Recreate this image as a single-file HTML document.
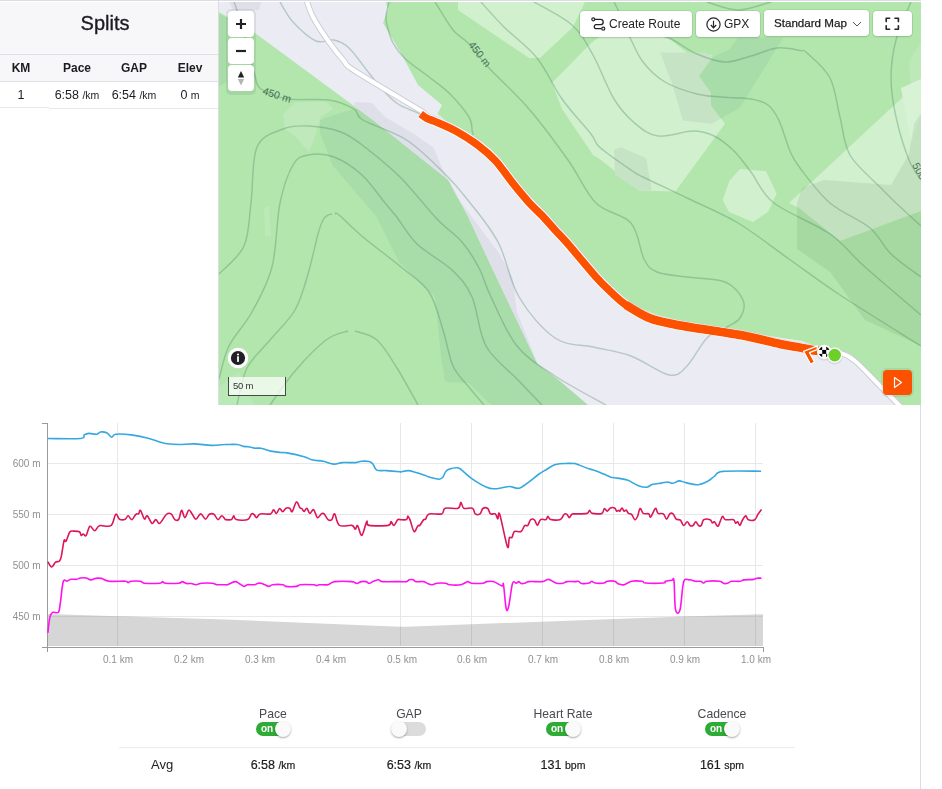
<!DOCTYPE html><html><head><meta charset="utf-8"><style>
*{margin:0;padding:0;box-sizing:border-box}
html,body{width:942px;height:789px;overflow:hidden;background:#fff;font-family:"Liberation Sans", sans-serif;color:#242428}
.a{position:absolute}
.t{position:absolute;white-space:nowrap;line-height:1;will-change:transform}
.btn{position:absolute;background:#fff;border-radius:4px;box-shadow:0 0 0 1px rgba(0,0,0,0.06),0 1px 2px rgba(0,0,0,0.12)}
.zb{position:absolute;left:9px;width:26px;height:26px;background:#fff;border-radius:4px}
.lbl{position:absolute;will-change:transform;font-size:10px;color:#8f8f95;white-space:nowrap;line-height:1}
.tog{position:absolute;height:14px;border-radius:7px}
.knob{position:absolute;top:-1px;width:16px;height:16px;border-radius:50%;background:#fafafa;box-shadow:0 1px 2px rgba(0,0,0,0.35)}
</style></head><body>
<div class="a" style="left:0;top:0;width:921px;height:1px;background:#dcdce3"></div>
<div class="a" style="left:0;top:2px;width:218px;height:79px;background:#f7f7fa"></div>
<div class="a" style="left:0;top:54px;width:218px;height:1px;background:#dfdfe8"></div>
<div class="a" style="left:0;top:81px;width:218px;height:1px;background:#dfdfe8"></div>
<div class="a" style="left:0;top:107px;width:49px;height:1px;background:#e6e6ec"></div>
<div class="a" style="left:49px;top:108px;width:169px;height:1px;background:#e6e6ec"></div>
<div class="a" style="left:218px;top:1px;width:1px;height:404px;background:#dcdce6"></div>
<div class="a" style="left:920px;top:405px;width:1px;height:384px;background:#dcdce6"></div>
<div class="t" style="left:0;width:210px;top:13px;text-align:center;font-size:20px;color:#1c1c20;-webkit-text-stroke:0.35px #1c1c20">Splits</div>
<div class="t" style="left:-19.3px;width:80px;top:62px;text-align:center;font-size:12px;font-weight:bold;color:#1c1c20">KM</div>
<div class="t" style="left:37.099999999999994px;width:80px;top:62px;text-align:center;font-size:12px;font-weight:bold;color:#1c1c20">Pace</div>
<div class="t" style="left:93.5px;width:80px;top:62px;text-align:center;font-size:12px;font-weight:bold;color:#1c1c20">GAP</div>
<div class="t" style="left:150px;width:80px;top:62px;text-align:center;font-size:12px;font-weight:bold;color:#1c1c20">Elev</div>
<div class="t" style="left:-19.3px;width:80px;top:88.5px;text-align:center;font-size:12.5px;color:#1c1c20">1</div>
<div class="t" style="left:37.099999999999994px;width:80px;top:88.5px;text-align:center;font-size:12.5px;color:#1c1c20">6:58 <span style="font-size:10.5px">/km</span></div>
<div class="t" style="left:93.5px;width:80px;top:88.5px;text-align:center;font-size:12.5px;color:#1c1c20">6:54 <span style="font-size:10.5px">/km</span></div>
<div class="t" style="left:150px;width:80px;top:88.5px;text-align:center;font-size:12.5px;color:#1c1c20">0 <span style="font-size:10.5px">m</span></div>
<div class="a" style="left:219px;top:2px;width:702px;height:403px;overflow:hidden">
<svg width="702" height="403" viewBox="0 0 702 403" style="position:absolute;left:0;top:0">
<rect width="702" height="403" fill="#b2e6ad"/>
<polygon points="0,12 8,16 8,80 0,84" fill="#a8dca9" />
<polygon points="63.7,112 76.4,100.6 107,99.3 114.6,107 101.9,114.6 96.8,132.4 90,150 76.4,135 66.2,127.3" fill="#bfe9bb" />
<polygon points="45,206 50,203 52,234 46,234" fill="#bbe9b7" />
<polygon points="101,118 121,111 140,106 260,190 380,403 272,403 250,381 230,380 226,379 222,354 216,295 180,260 157,214 114,164 101,131" fill="#a8dca9" />
<polygon points="0,385 20,370 35,403 0,403" fill="#b9e9b6" />
<polygon points="239,0 239,8 310,56 321,56 354,25 366,0" fill="#d1f0ce" />
<polygon points="333,81 372,41 381,34.5 447.8,34.5 469.4,51.7 493.1,52.8 480.1,74.3 490.9,90.5 492,102.4 506,121.7 456.4,189.6 419.8,188.6 381,157.3 374,153 343,107" fill="#d1f0ce" />
<polygon points="441.3,50.6 486.6,50.6 494.1,54.9 480.1,74.3 492,90.5 492,103.4 501.7,116.4 493.1,121.7 464,118.5 453.2,81.9" fill="#c6e3c6" />
<polygon points="518.9,35.5 564.2,35.5 521.1,105.6 501.7,116.4 492,103.4 492,90.5 480.1,74.3 494.1,54.9 510.3,47.4" fill="#a8dca9" />
<polygon points="395,147.6 402.6,145.5 427.3,156.2 432.7,188.6 419.8,188.6 396.1,172.4" fill="#c6e3c6" />
<polygon points="503.8,198 510.3,178.9 521.1,167 547,169.2 557.7,191.8 549,210 534,220 510,210" fill="#d1f0ce" />
<polygon points="570,201 692,87.6 702,77 702,209 621,239 580,206" fill="#d1f0ce" />
<polygon points="690,60 702,40 702,80 692,88" fill="#bde9b9" />
<polygon points="682,86 702,77 702,112 693,140 688,120" fill="#d8f2d5" />
<polygon points="583,186 605,178 672,183 690,152 695,122 702,111 702,344 646,318 611,270 578,247 578,201" fill="rgba(40,90,40,0.09)" />
<polygon points="0,0 167,0 169,7 164,21 183,53 199,83 223,103 218.5,112 237,126 260,141 277,156 294,177 310,197 323,210 336,225 349,239 377,272 407,300 438,313 468,320 519,329 583,339 604,347 621,348 636,356 661,381 683,403 369,403 341,379 318.7,362.2 293.6,309.2 269.8,258.9 248.9,214.3 229.4,178 154,118 135,104 36,31 0,10" fill="#ebebf4" />
<polygon points="135,100 153,101 166,115 195,132 215,146 223,166 237.7,194.7 279.6,250.6 293.6,275.7 297.7,309.2 318.7,362.2 341,379 318.7,362.2 293.6,309.2 269.8,258.9 248.9,214.3 229.4,178 154,118 135,104" fill="#dedfe8" />
<polygon points="10,0 42,0 40,8 14,8" fill="#dedfe8" />
<path d="M15,0 C16.2,3.3 19.5,11.7 22,20 C24.5,28.3 27.7,41.0 30,50 C32.3,59.0 34.0,67.8 36,74 C38.0,80.2 36.5,83.2 42,87 C47.5,90.8 57.7,95.2 69,97 C80.3,98.8 99.0,96.3 110,98 C121.0,99.7 129.3,103.7 135,107 C140.7,110.3 135.2,112.8 144,118 C152.8,123.2 174.3,129.5 187.5,138 C200.7,146.5 212.9,159.2 223,169 C233.1,178.8 238.7,185.2 248,197 C257.3,208.8 270.3,223.7 279,240 C287.7,256.3 290.5,279.0 300,295 C309.5,311.0 323.7,327.7 336,336 C348.3,344.3 361.3,342.0 374,345 C386.7,348.0 399.3,349.3 412,354 C424.7,358.7 440.7,371.3 450,373 C459.3,374.7 461.7,370.2 468,364 C474.3,357.8 481.7,342.3 488,336 C494.3,329.7 500.5,329.3 506,326 C511.5,322.7 518.0,320.7 521,316 C524.0,311.3 526.5,304.0 524,298 C521.5,292.0 515.3,283.8 506,280 C496.7,276.2 479.3,276.7 468,275 C456.7,273.3 445.2,273.0 438,270 C430.8,267.0 429.3,265.2 425,257 C420.7,248.8 420.0,230.3 412,221 C404.0,211.7 387.5,211.5 377,201 C366.5,190.5 360.2,173.7 349,158 C337.8,142.3 323.2,122.3 310,107 C296.8,91.7 280.2,77.0 270,66 C259.8,55.0 255.0,47.3 249,41 C243.0,34.7 239.5,34.8 234,28 C228.5,21.2 219.0,4.7 216,0" fill="none" stroke="#3d7a55" stroke-width="1.45" stroke-opacity="0.3"/>
<path d="M61,0 C63.2,3.3 68.0,13.5 74,20 C80.0,26.5 90.2,36.0 97,39 C103.8,42.0 109.5,36.8 115,38 C120.5,39.2 124.2,40.5 130,46 C135.8,51.5 144.5,64.2 150,71 C155.5,77.8 158.2,81.8 163,87 C167.8,92.2 172.7,97.8 179,102 C185.3,106.2 192.5,107.7 201,112 C209.5,116.3 221.5,124.5 230,128 C238.5,131.5 248.2,133.0 252,133 C255.8,133.0 253.3,131.0 253,128 C252.7,125.0 253.7,121.0 250,115 C246.3,109.0 237.7,98.7 231,92 C224.3,85.3 217.4,80.8 210,75 C202.6,69.2 192.5,62.7 186.5,57 C180.5,51.3 177.1,46.7 174,41 C170.9,35.3 169.2,27.5 168,23 C166.8,18.5 166.7,17.8 167,14 C167.3,10.2 169.5,2.3 170,0" fill="none" stroke="#3d7a55" stroke-width="1.45" stroke-opacity="0.3"/>
<path d="M0,272 C4.2,267.3 19.7,255.8 25,244 C30.3,232.2 29.8,217.5 32,201 C34.2,184.5 32.7,157.3 38,145 C43.3,132.7 55.5,130.5 64,127 C72.5,123.5 79.3,123.5 89,124 C98.7,124.5 112.3,126.3 122,130 C131.7,133.7 137.0,138.3 147,146 C157.0,153.7 170.2,164.2 182,176 C193.8,187.8 207.8,206.3 218,217 C228.2,227.7 236.0,231.8 243,240 C250.0,248.2 255.2,256.8 260,266 C264.8,275.2 265.7,282.0 272,295 C278.3,308.0 287.3,330.8 298,344 C308.7,357.2 321.2,364.2 336,374 C350.8,383.8 378.5,398.2 387,403" fill="none" stroke="#3d7a55" stroke-width="1.45" stroke-opacity="0.3"/>
<path d="M0,377 C1.7,371.5 4.5,355.2 10,344 C15.5,332.8 25.8,323.2 33,310 C40.2,296.8 48.3,283.2 53,265 C57.7,246.8 57.5,218.0 61,201 C64.5,184.0 69.3,171.0 74,163 C78.7,155.0 82.2,154.3 89,153 C95.8,151.7 106.0,151.7 115,155 C124.0,158.3 134.5,165.3 143,173 C151.5,180.7 160.3,194.2 166,201 C171.7,207.8 171.7,207.2 177,214 C182.3,220.8 188.7,233.0 198,242 C207.3,251.0 223.8,259.2 233,268 C242.2,276.8 247.3,282.3 253,295 C258.7,307.7 259.5,330.3 267,344 C274.5,357.7 288.7,367.2 298,377 C307.3,386.8 318.8,398.7 323,403" fill="none" stroke="#3d7a55" stroke-width="1.45" stroke-opacity="0.3"/>
<path d="M18,403 C19.7,396.8 22.5,376.8 28,366 C33.5,355.2 43.0,347.7 51,338 C59.0,328.3 69.7,319.0 76,308 C82.3,297.0 85.2,284.7 89,272 C92.8,259.3 96.5,241.0 99,232 C101.5,223.0 102.4,221.1 104,218 C105.6,214.9 107.0,214.3 108.5,213.3 C110.0,212.3 112.2,212.2 113,212" fill="none" stroke="#3d7a55" stroke-width="1.45" stroke-opacity="0.3"/>
<path d="M116,212 C116.7,212.2 115.3,209.2 120,213 C124.7,216.8 133.7,226.3 144,235 C154.3,243.7 171.0,255.8 182,265 C193.0,274.2 203.0,279.5 210,290 C217.0,300.5 220.0,315.7 224,328 C228.0,340.3 229.8,354.7 234,364 C238.2,373.3 243.8,377.5 249,384 C254.2,390.5 262.3,399.8 265,403" fill="none" stroke="#3d7a55" stroke-width="1.45" stroke-opacity="0.3"/>
<path d="M51,403 C55.2,397.3 66.7,379.8 76,369 C85.3,358.2 98.2,344.7 107,338 C115.8,331.3 125.3,330.5 129,329" fill="none" stroke="#3d7a55" stroke-width="1.45" stroke-opacity="0.3"/>
<path d="M136,329 C139.7,330.5 151.0,331.8 158,338 C165.0,344.2 171.2,355.2 178,366 C184.8,376.8 195.5,396.8 199,403" fill="none" stroke="#3d7a55" stroke-width="1.45" stroke-opacity="0.3"/>
<path d="M262,0 C265.8,4.2 275.7,15.7 285,25 C294.3,34.3 308.3,44.0 318,56 C327.7,68.0 334.0,84.3 343,97 C352.0,109.7 365.7,123.9 372,132 C378.3,140.1 374.3,139.5 381,145.5 C387.7,151.5 404.8,163.1 412,168 C419.2,172.9 414.7,170.3 424,175 C433.3,179.7 452.2,188.3 468,196 C483.8,203.7 502.0,210.8 519,221 C536.0,231.2 553.0,245.0 570,257 C587.0,269.0 599.0,278.5 621,293 C643.0,307.5 688.5,335.5 702,344" fill="none" stroke="#3d7a55" stroke-width="1.45" stroke-opacity="0.3"/>
<path d="M315,0 C321.3,3.8 343.2,14.2 353,23 C362.8,31.8 367.0,40.7 374,53 C381.0,65.3 388.1,85.7 395,97 C401.9,108.3 408.2,114.8 415.5,121 C422.8,127.2 429.2,132.7 439,134 C448.8,135.3 464.7,129.0 474,129 C483.3,129.0 488.2,130.7 495,134 C501.8,137.3 508.8,143.0 515,149 C521.2,155.0 525.3,161.3 532,170 C538.7,178.7 541.8,190.7 555,201 C568.2,211.3 595.8,221.3 611,232 C626.2,242.7 630.8,251.5 646,265 C661.2,278.5 692.7,305.0 702,313" fill="none" stroke="#3d7a55" stroke-width="1.45" stroke-opacity="0.3"/>
<path d="M395,0 C396.7,3.3 402.3,14.1 405,20 C407.7,25.9 407.8,28.8 411,35.5 C414.2,42.2 418.2,52.6 424,60 C429.8,67.4 437.0,74.7 446,80 C455.0,85.3 468.7,89.5 478,92 C487.3,94.5 493.0,94.2 502,95 C511.0,95.8 524.2,95.7 532,97 C539.8,98.3 544.3,99.4 549,103 C553.7,106.6 556.3,110.8 560,118.5 C563.7,126.2 567.5,141.1 571,149 C574.5,156.9 574.3,157.3 581,166 C587.7,174.7 599.3,191.0 611,201 C622.7,211.0 640.8,217.5 651,226 C661.2,234.5 663.5,243.8 672,252 C680.5,260.2 697.0,271.2 702,275" fill="none" stroke="#3d7a55" stroke-width="1.45" stroke-opacity="0.3"/>
<path d="M430,30 C433.7,31.2 444.0,33.3 452,37 C460.0,40.7 469.0,48.2 478,52 C487.0,55.8 497.0,59.7 506,60 C515.0,60.3 523.3,56.3 532,54 C540.7,51.7 549.8,46.9 558,46 C566.2,45.1 576.0,47.7 581,48.5 C586.0,49.3 583.0,46.4 588,51 C593.0,55.6 605.5,65.3 611,76 C616.5,86.7 617.7,102.2 621,115 C624.3,127.8 624.2,141.2 631,153 C637.8,164.8 654.3,178.0 662,186 C669.7,194.0 670.3,194.7 677,201 C683.7,207.3 697.8,220.2 702,224" fill="none" stroke="#3d7a55" stroke-width="1.45" stroke-opacity="0.3"/>
<path d="M488,0 C493.2,1.3 508.3,8.0 519,8 C529.7,8.0 546.5,1.3 552,0" fill="none" stroke="#3d7a55" stroke-width="1.45" stroke-opacity="0.3"/>
<path d="M692,0 C689.5,6.3 680.3,25.3 677,38 C673.7,50.7 672.0,63.2 672,76 C672.0,88.8 674.0,101.3 677,115 C680.0,128.7 685.8,147.5 690,158 C694.2,168.5 700.0,174.7 702,178" fill="none" stroke="#3d7a55" stroke-width="1.45" stroke-opacity="0.3"/>
<text x="0" y="0" transform="translate(43,92) rotate(18)" font-size="10.5" fill="#4a6e5a" font-family="Liberation Sans, sans-serif">450 m</text>
<text x="0" y="0" transform="translate(249,43) rotate(52)" font-size="10.5" fill="#4a6e5a" font-family="Liberation Sans, sans-serif">450 m</text>
<text x="0" y="0" transform="translate(693,163) rotate(62)" font-size="10.5" fill="#4a6e5a" font-family="Liberation Sans, sans-serif">500</text>
<path d="M87.5,-2 C88.6,0.8 90.2,8.0 94,15 C97.8,22.0 104.8,32.7 110,40 C115.2,47.3 120.7,54.2 125,59 C129.3,63.8 122.8,60.5 136,69 C149.2,77.5 192.7,103.2 204,110" fill="none" stroke="#c9cad4" stroke-width="6" stroke-linecap="round" stroke-linejoin="round"/>
<path d="M203.2,110.2 C204.2,110.9 206.7,113.1 209.0,114.3 C211.3,115.5 212.2,115.4 217.2,117.60000000000001 C222.1,119.8 231.3,123.4 238.7,127.50000000000001 C246.1,131.6 255.1,137.4 261.7,142.39999999999998 C268.3,147.3 272.7,151.2 278.2,157.2 C283.7,163.2 289.2,171.7 294.7,178.6 C300.2,185.5 306.2,192.9 311.2,198.39999999999998 C316.1,203.9 320.0,207.0 324.4,211.6 C328.8,216.2 333.1,221.4 337.5,226.2 C341.9,231.0 343.7,232.4 350.5,240.2 C357.3,248.0 371.2,265.0 378.5,273.2 C385.8,281.4 389.5,284.5 394.5,289.2 C399.5,293.9 402.2,297.0 408.5,301.2 C414.8,305.4 424.3,311.2 432.5,314.5 C440.7,317.8 449.2,319.0 457.5,320.7 C465.8,322.4 471.3,323.1 482.5,324.9 C493.7,326.7 511.2,328.9 524.5,331.5 C537.8,334.1 552.8,338.1 562.5,340.2 C572.2,342.2 576.2,342.6 582.5,343.8 C588.8,345.0 597.5,346.6 600.5,347.2" fill="none" stroke="#c9cad4" stroke-width="6" stroke-linecap="round" stroke-linejoin="round"/>
<path d="M598,347 C601.8,347.7 614.7,349.0 621,351 C627.3,353.0 629.3,353.5 636,359 C642.7,364.5 653.3,376.3 661,384 C668.7,391.7 678.5,401.5 682,405" fill="none" stroke="#c9cad4" stroke-width="6" stroke-linecap="round" stroke-linejoin="round"/>
<path d="M87.5,-2 C88.6,0.8 90.2,8.0 94,15 C97.8,22.0 104.8,32.7 110,40 C115.2,47.3 120.7,54.2 125,59 C129.3,63.8 122.8,60.5 136,69 C149.2,77.5 192.7,103.2 204,110" fill="none" stroke="#ffffff" stroke-width="4.2" stroke-linecap="round" stroke-linejoin="round"/>
<path d="M203.2,110.2 C204.2,110.9 206.7,113.1 209.0,114.3 C211.3,115.5 212.2,115.4 217.2,117.60000000000001 C222.1,119.8 231.3,123.4 238.7,127.50000000000001 C246.1,131.6 255.1,137.4 261.7,142.39999999999998 C268.3,147.3 272.7,151.2 278.2,157.2 C283.7,163.2 289.2,171.7 294.7,178.6 C300.2,185.5 306.2,192.9 311.2,198.39999999999998 C316.1,203.9 320.0,207.0 324.4,211.6 C328.8,216.2 333.1,221.4 337.5,226.2 C341.9,231.0 343.7,232.4 350.5,240.2 C357.3,248.0 371.2,265.0 378.5,273.2 C385.8,281.4 389.5,284.5 394.5,289.2 C399.5,293.9 402.2,297.0 408.5,301.2 C414.8,305.4 424.3,311.2 432.5,314.5 C440.7,317.8 449.2,319.0 457.5,320.7 C465.8,322.4 471.3,323.1 482.5,324.9 C493.7,326.7 511.2,328.9 524.5,331.5 C537.8,334.1 552.8,338.1 562.5,340.2 C572.2,342.2 576.2,342.6 582.5,343.8 C588.8,345.0 597.5,346.6 600.5,347.2" fill="none" stroke="#ffffff" stroke-width="4.2" stroke-linecap="round" stroke-linejoin="round"/>
<path d="M598,347 C601.8,347.7 614.7,349.0 621,351 C627.3,353.0 629.3,353.5 636,359 C642.7,364.5 653.3,376.3 661,384 C668.7,391.7 678.5,401.5 682,405" fill="none" stroke="#ffffff" stroke-width="4.2" stroke-linecap="round" stroke-linejoin="round"/>
<path d="M201.7,112 C202.7,112.7 205.2,114.9 207.5,116.1 C209.8,117.3 210.8,117.2 215.7,119.4 C220.6,121.6 229.8,125.2 237.2,129.3 C244.6,133.4 253.6,139.2 260.2,144.2 C266.8,149.1 271.2,153.0 276.7,159 C282.2,165.0 287.7,173.5 293.2,180.4 C298.7,187.3 304.8,194.7 309.7,200.2 C314.6,205.7 318.5,208.8 322.9,213.4 C327.3,218.0 331.6,223.2 336,228 C340.4,232.8 342.2,234.2 349,242 C355.8,249.8 369.7,266.8 377,275 C384.3,283.2 388.0,286.3 393,291 C398.0,295.7 400.7,298.8 407,303 C413.3,307.2 422.8,313.1 431,316.3 C439.2,319.6 447.7,320.8 456,322.5 C464.3,324.2 469.8,324.9 481,326.7 C492.2,328.5 509.7,330.8 523,333.3 C536.3,335.9 551.3,339.9 561,342 C570.7,344.1 574.7,344.4 581,345.6 C587.3,346.8 596.0,348.4 599,349" fill="none" stroke="#ffffff" stroke-width="9.6" stroke-opacity="0.9" stroke-linecap="butt" stroke-linejoin="round"/>
<path d="M201.7,112 C202.7,112.7 205.2,114.9 207.5,116.1 C209.8,117.3 210.8,117.2 215.7,119.4 C220.6,121.6 229.8,125.2 237.2,129.3 C244.6,133.4 253.6,139.2 260.2,144.2 C266.8,149.1 271.2,153.0 276.7,159 C282.2,165.0 287.7,173.5 293.2,180.4 C298.7,187.3 304.8,194.7 309.7,200.2 C314.6,205.7 318.5,208.8 322.9,213.4 C327.3,218.0 331.6,223.2 336,228 C340.4,232.8 342.2,234.2 349,242 C355.8,249.8 369.7,266.8 377,275 C384.3,283.2 388.0,286.3 393,291 C398.0,295.7 400.7,298.8 407,303 C413.3,307.2 422.8,313.1 431,316.3 C439.2,319.6 447.7,320.8 456,322.5 C464.3,324.2 469.8,324.9 481,326.7 C492.2,328.5 509.7,330.8 523,333.3 C536.3,335.9 551.3,339.9 561,342 C570.7,344.1 574.7,344.4 581,345.6 C587.3,346.8 596.0,348.4 599,349" fill="none" stroke="#fc5200" stroke-width="7.6" stroke-linecap="butt" stroke-linejoin="round"/>
<path d="M407,303 C411.0,305.2 422.8,313.1 431,316.3 C439.2,319.6 447.7,320.8 456,322.5 C464.3,324.2 469.8,324.9 481,326.7 C492.2,328.5 509.7,330.8 523,333.3 C536.3,335.9 551.3,339.9 561,342 C570.7,344.1 574.7,344.4 581,345.6 C587.3,346.8 596.0,348.4 599,349" fill="none" stroke="#fc5200" stroke-width="8.6" stroke-linecap="butt" stroke-linejoin="round"/>
<path d="M602,348.5 L588,348.5" fill="none" stroke="#fc5200" stroke-width="8"/>
<polygon points="584.5,349.3 598.5,343.8 598,347.6 590.5,350.6 595.5,360 591.6,362.2" fill="#fc5200" stroke="#fff" stroke-width="1.3" stroke-linejoin="round"/>
<circle cx="605.2" cy="351.2" r="7.6" fill="rgba(0,0,0,0.08)"/><circle cx="615.7" cy="354.6" r="8" fill="rgba(0,0,0,0.08)"/><g transform="translate(605.2,349.9)"><circle r="7.2" fill="#fff"/><clipPath id="cc"><circle r="5.6"/></clipPath><g clip-path="url(#cc)"><rect x="-6" y="-6" width="4" height="4" fill="#000"/><rect x="2" y="-6" width="4" height="4" fill="#000"/><rect x="-2" y="-2" width="4" height="4" fill="#000"/><rect x="-6" y="2" width="4" height="4" fill="#000"/><rect x="2" y="2" width="4" height="4" fill="#000"/></g></g>
<circle cx="615.7" cy="353.1" r="7.6" fill="#fff"/><circle cx="615.7" cy="353.1" r="6.3" fill="#6dcf2a"/>
</svg>
<div class="a" style="left:7px;top:7px;width:30px;height:86px;border-radius:5px;background:rgba(0,0,0,0.07)"></div>
<div class="zb" style="top:9px"></div>
<div class="zb" style="top:36px"></div>
<div class="zb" style="top:63px"></div>
<svg class="a" style="left:9px;top:9px" width="26" height="82" viewBox="0 0 26 82"><path d="M13,8 V18 M8,13 H18" stroke="#222" stroke-width="2.2"/><path d="M8,40 H18" stroke="#222" stroke-width="2.2"/><path d="M13,60 L16.2,66.5 H9.8 Z" fill="#222"/><path d="M13,74.5 L16.2,68 H9.8 Z" fill="#b5b5b5"/></svg>
<div class="btn" style="left:361px;top:9px;width:112px;height:26px"><svg class="a" style="left:11px;top:6px" width="15" height="14" viewBox="0 0 15 14"><circle cx="2.3" cy="2.3" r="1.5" fill="none" stroke="#242428" stroke-width="1.2"/><circle cx="12.3" cy="11.7" r="1.5" fill="none" stroke="#242428" stroke-width="1.2"/><path d="M4,2.3 H9.5 A2.7,2.7 0 0 1 9.5,7.7 H4.7 A2.1,2.1 0 0 0 4.7,11.7 H10.6" fill="none" stroke="#242428" stroke-width="1.3"/></svg><div class="t" style="left:29px;top:7px;font-size:12px;color:#242428">Create Route</div></div>
<div class="btn" style="left:477px;top:9px;width:64px;height:26px"><svg class="a" style="left:10px;top:6px" width="15" height="15" viewBox="0 0 15 15"><circle cx="7.5" cy="7.5" r="6.6" fill="none" stroke="#242428" stroke-width="1.2"/><path d="M7.5,3.8 V10.6 M4.8,8 L7.5,10.8 L10.2,8" fill="none" stroke="#242428" stroke-width="1.2"/></svg><div class="t" style="left:28px;top:7px;font-size:12px;color:#242428">GPX</div></div>
<div class="btn" style="left:545px;top:8px;width:105px;height:26px"><div class="t" style="left:10px;top:7px;font-size:11.6px;color:#1c1c20;-webkit-text-stroke:0.25px #1c1c20">Standard Map</div><svg class="a" style="left:88px;top:11px" width="10" height="6" viewBox="0 0 10 6"><path d="M1,1 L5,5 L9,1" fill="none" stroke="#555" stroke-width="1"/></svg></div>
<div class="btn" style="left:654px;top:9px;width:39px;height:25px"><svg class="a" style="left:12px;top:6px" width="15" height="14" viewBox="0 0 15 14"><path d="M1.2,4.6 V1.2 H4.6 M10,1.2 H13.4 V4.6 M13.4,8.8 V12.2 H10 M4.6,12.2 H1.2 V8.8" fill="none" stroke="#242428" stroke-width="1.6" stroke-linejoin="round" stroke-linecap="round"/></svg></div>
<svg class="a" style="left:8px;top:345px" width="22" height="22" viewBox="0 0 22 22"><circle cx="11" cy="11" r="10.3" fill="#fff"/><circle cx="11" cy="11" r="7.1" fill="#1f1f24"/><rect x="10.1" y="9.3" width="1.8" height="5.6" fill="#fff"/><circle cx="11" cy="7.5" r="1.05" fill="#fff"/></svg>
<div class="a" style="left:9px;top:375px;width:58px;height:19px;background:rgba(255,255,255,0.72);border:1px solid #444a44;border-top:none"></div>
<div class="t" style="left:14px;top:378.5px;font-size:9.5px;letter-spacing:-0.2px;color:#333">50 m</div>
<div class="a" style="left:664px;top:368px;width:29px;height:25px;border-radius:4px;background:#fc5200;box-shadow:0 0 0 2px rgba(0,0,0,0.06)"></div>
<svg class="a" style="left:671px;top:373px" width="15" height="15" viewBox="0 0 15 15"><path d="M4.5,2.5 L11.5,7.5 L4.5,12.5 Z" fill="none" stroke="#fff" stroke-width="1.2" stroke-linejoin="round"/></svg>
</div>
<svg class="a" style="left:0;top:0" width="942" height="789" viewBox="0 0 942 789">
<path d="M48,463.5 H763" stroke="#e8e8e8" stroke-width="1"/>
<path d="M48,514.5 H763" stroke="#e8e8e8" stroke-width="1"/>
<path d="M48,565.5 H763" stroke="#e8e8e8" stroke-width="1"/>
<path d="M48,616.5 H763" stroke="#e8e8e8" stroke-width="1"/>
<path d="M117.5,423 V646" stroke="#e8e8e8" stroke-width="1"/>
<path d="M400.5,423 V646" stroke="#e8e8e8" stroke-width="1"/>
<path d="M471.5,423 V646" stroke="#e8e8e8" stroke-width="1"/>
<path d="M542.5,423 V646" stroke="#e8e8e8" stroke-width="1"/>
<path d="M613.5,423 V646" stroke="#e8e8e8" stroke-width="1"/>
<path d="M684.5,423 V646" stroke="#e8e8e8" stroke-width="1"/>
<path d="M755.5,423 V646" stroke="#e8e8e8" stroke-width="1"/>
<path d="M47.5,614 L117.6,616.2 L225,619.5 L400,626.7 L406.5,626.7 L575,620.4 L684.6,616.6 L763,614.3 L763,646 L48,646 Z" fill="#d6d6d6"/>
<clipPath id="gclip"><path d="M47.5,614 L117.6,616.2 L225,619.5 L400,626.7 L406.5,626.7 L575,620.4 L684.6,616.6 L763,614.3 L763,646 L48,646 Z"/></clipPath>
<g clip-path="url(#gclip)">
<path d="M48,616.5 H763" stroke="#c8c8c8" stroke-width="1"/>
<path d="M117.5,610 V646" stroke="#c4c4c4" stroke-width="1"/>
<path d="M400.5,610 V646" stroke="#c4c4c4" stroke-width="1"/>
<path d="M471.5,610 V646" stroke="#c4c4c4" stroke-width="1"/>
<path d="M542.5,610 V646" stroke="#c4c4c4" stroke-width="1"/>
<path d="M613.5,610 V646" stroke="#c4c4c4" stroke-width="1"/>
<path d="M684.5,610 V646" stroke="#c4c4c4" stroke-width="1"/>
<path d="M755.5,610 V646" stroke="#c4c4c4" stroke-width="1"/>
</g>
<path d="M47.5,423 V652 M42,423.5 H47.5 M42,647.5 H763.5 M763.5,647 V652" stroke="#9a9a9a" stroke-width="1" fill="none"/>
<path d="M47.9,438.5 C53.3,438.5 74.4,439.1 80.4,438.5 C86.5,437.9 82.8,435.8 84.2,434.9 C85.6,434.0 86.9,433.5 89.0,433.4 C91.1,433.3 94.7,434.5 96.6,434.3 C98.5,434.1 98.7,432.2 100.4,432.0 C102.2,431.8 105.2,432.1 107.1,433.0 C108.9,433.9 110.1,437.0 111.5,437.2 C112.9,437.4 112.5,434.7 115.7,434.3 C119.0,433.9 125.6,434.2 131.0,434.9 C136.4,435.5 143.4,437.0 148.2,438.2 C153.0,439.4 156.5,441.1 159.7,442.0 C162.9,442.9 164.1,443.3 167.3,443.7 C170.5,444.1 174.3,444.5 178.8,444.5 C183.3,444.5 188.7,443.8 194.1,443.9 C199.5,444.0 206.2,445.3 211.3,445.4 C216.5,445.5 222.6,444.6 225.0,444.5 C227.4,444.4 223.7,444.5 225.7,444.5 C227.7,444.5 234.2,444.2 237.2,444.5 C240.2,444.8 242.0,446.0 243.9,446.4 C245.8,446.8 246.9,446.5 248.7,446.8 C250.4,447.1 252.3,447.9 254.4,448.1 C256.5,448.4 258.4,447.8 261.1,448.3 C263.8,448.8 267.2,450.4 270.6,451.1 C274.0,451.8 278.5,452.2 281.2,452.5 C283.9,452.8 283.1,452.2 286.9,452.9 C290.7,453.6 300.0,455.6 304.1,456.7 C308.2,457.8 308.5,458.9 311.7,459.7 C314.9,460.5 319.5,460.6 323.2,461.3 C326.9,462.0 330.5,463.9 333.7,464.1 C336.9,464.3 338.6,462.9 342.3,462.6 C346.0,462.4 352.5,462.8 355.7,462.6 C358.9,462.4 359.2,461.5 361.4,461.3 C363.6,461.1 367.2,461.1 369.1,461.5 C371.0,461.9 371.6,462.6 372.9,464.0 C374.2,465.4 374.5,469.0 376.7,470.1 C378.9,471.2 382.4,470.3 386.3,470.6 C390.2,470.9 397.6,471.6 400.0,471.8 C402.4,472.0 399.3,472.2 400.7,472.0 C402.1,471.8 405.8,470.5 408.4,470.6 C410.9,470.7 413.4,471.9 416.0,472.6 C418.6,473.3 421.1,474.1 423.7,475.0 C426.2,475.9 428.8,477.0 431.3,477.7 C433.9,478.4 437.1,479.3 439.0,479.2 C440.9,479.1 441.5,478.7 442.8,477.3 C444.1,475.9 444.4,472.2 446.6,470.6 C448.8,469.0 453.8,468.0 456.2,467.8 C458.6,467.6 458.4,467.6 460.9,469.3 C463.4,471.1 467.1,475.3 471.4,478.3 C475.7,481.3 482.9,485.6 486.7,487.3 C490.5,489.1 491.8,488.7 494.4,488.8 C496.9,488.9 499.4,488.2 502.0,487.8 C504.6,487.4 506.8,486.4 509.7,486.5 C512.6,486.6 516.0,488.9 519.2,488.2 C522.4,487.5 525.6,484.4 528.8,482.1 C532.0,479.8 535.4,476.6 538.3,474.5 C541.2,472.4 543.1,471.4 546.0,469.7 C548.9,468.0 552.0,465.6 555.5,464.5 C559.0,463.4 563.8,463.5 567.0,463.4 C570.2,463.2 573.4,463.5 575.0,463.6 C576.6,463.7 574.0,463.0 576.4,463.9 C578.8,464.8 585.6,467.6 589.1,468.8 C592.6,470.1 594.1,470.0 597.6,471.4 C601.1,472.8 607.5,475.8 610.3,476.9 C613.1,477.9 611.8,477.2 614.6,477.7 C617.4,478.2 623.4,478.8 627.3,480.1 C631.2,481.4 634.7,484.2 637.9,485.4 C641.1,486.6 643.9,487.5 646.4,487.3 C648.9,487.1 650.3,485.0 652.8,484.3 C655.3,483.6 658.8,483.5 661.3,483.1 C663.8,482.7 665.8,482.0 667.7,482.0 C669.7,482.0 671.1,483.5 673.0,483.3 C674.9,483.1 677.2,481.0 679.3,480.9 C681.4,480.8 682.7,482.0 685.7,482.6 C688.7,483.2 693.7,485.1 697.4,484.8 C701.1,484.6 705.2,482.5 708.0,481.1 C710.8,479.7 711.9,477.9 714.4,476.3 C716.9,474.7 715.1,472.2 722.9,471.4 C730.7,470.5 754.7,471.2 761.1,471.2" fill="none" stroke="#35a8e0" stroke-width="1.6" stroke-linejoin="round"/>
<path d="M47.9,561.7 C48.5,562.6 50.4,566.9 51.7,567.0 C53.0,567.1 54.2,563.2 55.5,562.2 C56.8,561.2 58.3,562.0 59.3,561.1 C60.2,560.2 60.4,560.3 61.2,556.9 C62.0,553.5 63.3,543.2 64.1,540.6 C64.9,538.0 65.0,542.6 66.0,541.2 C67.0,539.8 68.5,533.7 69.8,532.0 C71.1,530.3 72.1,531.1 73.7,531.1 C75.3,531.1 78.1,531.0 79.4,531.7 C80.7,532.4 80.7,535.1 81.3,535.5 C81.9,535.9 82.4,534.0 83.2,534.0 C84.0,534.0 85.0,536.8 86.1,535.5 C87.2,534.2 88.5,527.1 89.9,526.3 C91.3,525.5 93.1,530.8 94.7,530.7 C96.3,530.6 96.8,526.5 99.5,525.7 C102.2,524.9 108.2,527.6 110.9,525.7 C113.6,523.8 114.3,515.4 115.7,514.3 C117.1,513.2 117.9,518.4 119.5,519.2 C121.1,520.0 123.9,519.8 125.3,519.2 C126.7,518.6 127.0,515.7 128.1,515.8 C129.2,515.9 130.6,519.9 131.9,519.6 C133.2,519.4 134.7,515.2 135.8,514.3 C136.9,513.3 137.8,514.5 138.6,513.9 C139.4,513.2 139.5,509.5 140.5,510.4 C141.5,511.2 143.3,518.1 144.4,519.0 C145.5,519.9 145.9,515.1 147.2,515.8 C148.5,516.5 150.6,522.8 152.0,523.4 C153.4,524.0 154.5,519.6 155.8,519.6 C157.1,519.6 157.9,524.2 159.7,523.4 C161.4,522.5 164.4,516.1 166.3,514.5 C168.2,512.9 169.7,513.0 171.1,513.9 C172.5,514.8 173.6,518.7 174.9,519.6 C176.2,520.5 177.7,520.7 178.8,519.2 C179.9,517.7 180.6,510.6 181.6,510.4 C182.6,510.1 183.7,517.8 184.9,517.7 C186.1,517.7 187.5,510.7 188.7,510.1 C189.9,509.5 190.9,512.4 192.1,513.9 C193.3,515.4 194.6,519.2 196.0,519.2 C197.4,519.2 199.1,513.9 200.7,513.9 C202.3,513.9 204.1,519.1 205.5,519.2 C206.9,519.3 207.9,515.1 209.3,514.3 C210.7,513.5 212.7,513.4 214.1,514.3 C215.5,515.2 216.6,519.4 217.9,519.6 C219.2,519.9 220.6,515.9 221.8,515.8 C223.0,515.7 224.3,518.6 225.0,519.2 C225.7,519.8 224.6,519.5 225.7,519.6 C226.8,519.7 230.2,520.2 231.5,519.6 C232.8,519.0 233.0,515.8 233.8,515.8 C234.6,515.8 233.9,519.0 236.2,519.6 C238.5,520.2 245.1,520.6 247.7,519.6 C250.2,518.6 250.4,514.8 251.5,513.9 C252.6,513.0 253.1,513.9 254.0,514.5 C254.9,515.1 255.7,517.8 256.7,517.7 C257.7,517.6 257.8,514.5 260.1,513.9 C262.4,513.3 268.4,514.6 270.6,513.9 C272.8,513.2 272.5,509.8 273.5,509.7 C274.5,509.6 275.4,513.7 276.4,513.5 C277.4,513.3 278.6,508.8 279.6,508.5 C280.7,508.2 281.6,511.7 282.7,511.6 C283.8,511.6 284.7,508.8 285.9,508.2 C287.1,507.6 288.6,507.6 289.7,508.2 C290.8,508.8 291.1,512.6 292.2,511.6 C293.3,510.6 295.1,502.6 296.4,502.0 C297.7,501.4 299.0,506.7 299.9,507.8 C300.8,508.9 301.1,507.9 301.8,508.5 C302.5,509.1 303.2,511.4 304.1,511.4 C305.0,511.3 305.9,507.8 306.9,508.2 C307.8,508.6 308.7,513.2 309.8,513.5 C310.9,513.8 312.3,509.0 313.6,509.7 C314.9,510.4 316.2,517.0 317.5,517.7 C318.8,518.4 320.2,514.5 321.3,513.9 C322.4,513.3 323.0,512.9 324.1,513.9 C325.2,514.9 326.7,518.6 328.0,519.6 C329.3,520.6 330.7,520.6 331.8,519.6 C332.9,518.6 333.4,512.9 334.7,513.9 C336.0,514.9 336.5,523.5 339.4,525.4 C342.3,527.3 349.2,524.8 351.9,525.4 C354.5,526.0 354.4,529.2 355.3,529.2 C356.2,529.2 356.5,524.7 357.6,525.7 C358.7,526.7 360.3,536.0 361.8,535.3 C363.3,534.6 365.6,523.1 366.8,521.5 C368.0,519.9 365.5,524.8 369.1,525.4 C372.7,526.0 384.6,526.0 388.2,525.4 C391.8,524.8 390.1,521.5 391.0,521.5 C391.9,521.5 392.8,525.7 393.9,525.4 C395.0,525.1 396.7,520.6 397.7,519.6 C398.7,518.6 398.5,519.6 400.0,519.6 C401.5,519.6 405.2,520.2 406.5,519.6 C407.8,519.0 407.4,516.0 408.0,516.2 C408.6,516.4 409.3,518.1 410.3,520.6 C411.3,523.1 412.8,530.6 414.1,531.5 C415.4,532.4 416.9,526.7 417.9,525.7 C418.8,524.7 418.8,526.4 419.8,525.4 C420.8,524.4 422.7,520.6 423.7,519.6 C424.7,518.6 424.7,520.2 425.6,519.2 C426.5,518.2 426.3,514.8 429.0,513.9 C431.7,513.0 439.1,514.9 441.8,513.9 C444.5,512.9 442.4,509.1 445.1,508.2 C447.8,507.2 455.5,509.2 458.1,508.2 C460.7,507.2 459.9,502.4 460.9,502.4 C461.8,502.4 461.9,507.2 463.8,508.2 C465.7,509.2 470.5,507.2 472.4,508.2 C474.3,509.1 474.0,512.9 475.3,513.9 C476.6,514.9 478.7,514.8 480.0,513.9 C481.3,513.0 481.6,509.4 482.9,508.5 C484.2,507.6 486.4,507.6 487.7,508.5 C489.0,509.4 489.2,513.0 490.5,513.9 C491.8,514.8 494.1,513.0 495.3,513.9 C496.5,514.8 497.1,518.9 497.8,519.0 C498.5,519.1 498.1,509.7 499.7,514.3 C501.3,518.9 505.8,542.9 507.4,546.8 C509.0,550.7 508.5,539.4 509.3,537.8 C510.1,536.2 511.1,538.4 512.0,537.4 C512.9,536.4 512.9,532.5 514.4,531.5 C515.9,530.5 519.4,532.5 521.1,531.5 C522.8,530.5 523.5,526.7 524.6,525.7 C525.7,524.7 526.8,526.4 527.8,525.4 C528.8,524.4 529.6,520.5 530.7,519.6 C531.8,518.7 533.4,519.0 534.5,520.0 C535.6,521.0 536.4,525.5 537.4,525.4 C538.4,525.3 539.2,520.6 540.6,519.6 C542.0,518.6 544.8,520.2 546.0,519.6 C547.2,519.0 547.1,516.2 547.9,516.2 C548.7,516.2 548.6,519.0 550.7,519.6 C552.8,520.2 558.1,520.5 560.3,519.6 C562.5,518.7 563.0,515.2 564.1,514.3 C565.2,513.4 566.1,513.7 567.0,514.3 C567.9,514.9 568.5,517.7 569.3,517.7 C570.1,517.7 570.8,514.9 571.8,514.3 C572.8,513.7 572.5,514.0 575.0,513.9 C577.5,513.8 584.6,514.0 587.0,513.4 C589.4,512.8 588.6,510.2 589.5,510.2 C590.4,510.2 590.2,512.9 592.3,513.4 C594.3,513.9 599.8,514.2 601.8,513.4 C603.8,512.6 603.5,508.9 604.4,508.5 C605.3,508.1 606.2,511.3 607.2,511.2 C608.2,511.1 609.1,508.5 610.3,508.0 C611.5,507.5 613.5,507.5 614.6,508.0 C615.7,508.5 616.0,510.8 616.7,511.2 C617.4,511.6 618.3,510.2 618.8,510.2 C619.3,510.2 619.4,511.6 619.9,511.2 C620.4,510.8 621.3,508.0 622.0,508.0 C622.7,508.0 623.4,510.8 624.1,511.2 C624.8,511.6 625.6,509.8 626.3,510.2 C627.0,510.6 627.5,512.7 628.4,513.4 C629.3,514.1 630.5,513.3 631.6,514.4 C632.7,515.5 633.8,519.4 634.8,519.7 C635.8,520.1 636.6,518.4 637.5,516.5 C638.4,514.6 639.1,509.0 640.1,508.5 C641.1,508.0 641.8,512.5 643.2,513.4 C644.6,514.3 647.4,513.2 648.6,513.8 C649.9,514.4 649.6,517.9 650.7,517.0 C651.8,516.1 654.2,509.1 655.4,508.5 C656.6,507.9 656.8,512.5 658.1,513.4 C659.4,514.3 662.0,512.8 663.4,513.8 C664.8,514.8 665.5,519.1 666.6,519.1 C667.7,519.1 668.7,514.7 669.8,513.8 C670.9,512.9 671.9,512.9 673.0,513.8 C674.1,514.7 675.0,518.0 676.2,519.1 C677.4,520.2 679.2,519.0 680.4,520.1 C681.6,521.2 682.5,525.2 683.6,525.5 C684.7,525.8 686.1,521.8 687.2,521.8 C688.3,521.8 689.0,524.9 690.0,525.5 C691.0,526.1 692.1,526.1 693.1,525.5 C694.1,524.9 694.8,521.8 695.7,521.8 C696.6,521.8 697.6,524.9 698.5,525.5 C699.4,526.1 700.3,526.5 701.2,525.5 C702.1,524.5 702.3,520.7 703.8,519.7 C705.3,518.7 708.7,519.2 710.1,519.7 C711.5,520.2 711.6,522.5 712.3,522.9 C713.0,523.2 713.6,521.4 714.4,521.8 C715.2,522.2 716.2,524.9 716.9,525.5 C717.6,526.1 717.7,527.0 718.6,525.5 C719.5,524.0 721.3,517.5 722.4,516.5 C723.5,515.5 723.5,519.2 725.4,519.7 C727.2,520.2 731.8,519.1 733.5,519.7 C735.2,520.3 734.9,522.9 735.6,523.3 C736.3,523.6 737.0,521.4 737.7,521.8 C738.4,522.2 739.1,525.8 739.9,525.5 C740.7,525.2 741.4,521.7 742.4,520.1 C743.4,518.5 744.8,516.0 745.8,515.9 C746.8,515.8 746.8,519.1 748.3,519.7 C749.8,520.3 753.1,520.6 754.7,519.7 C756.3,518.8 756.8,516.1 757.9,514.4 C759.0,512.7 760.9,510.3 761.5,509.5" fill="none" stroke="#dc1757" stroke-width="1.6" stroke-linejoin="round"/>
<path d="M47.9,632.8 C48.2,630.3 49.0,621.0 49.8,617.6 C50.6,614.2 51.2,613.3 52.6,612.4 C54.0,611.5 57.1,613.7 58.4,612.2 C59.7,610.7 59.5,608.3 60.3,603.2 C61.1,598.1 62.1,585.5 63.2,581.8 C64.3,578.1 65.7,581.6 67.0,581.2 C68.3,580.8 69.2,579.6 70.8,579.3 C72.4,579.0 74.9,579.5 76.5,579.3 C78.1,579.1 78.8,578.2 80.4,578.0 C82.0,577.8 84.3,577.7 86.1,578.0 C87.8,578.3 89.3,579.8 90.9,579.9 C92.5,580.0 93.8,578.6 95.6,578.4 C97.3,578.1 99.2,577.9 101.4,578.4 C103.6,578.9 105.0,580.7 109.0,581.2 C113.0,581.7 122.1,581.0 125.3,581.2 C128.5,581.4 127.1,582.6 128.1,582.6 C129.0,582.6 128.9,581.4 131.0,581.2 C133.1,581.0 138.3,580.9 140.5,581.2 C142.7,581.5 141.2,582.9 144.4,583.2 C147.6,583.5 156.7,583.5 159.7,583.2 C162.7,582.9 161.6,581.6 162.5,581.6 C163.4,581.6 162.7,582.9 165.4,583.2 C168.1,583.5 176.0,583.5 178.8,583.2 C181.6,582.9 180.9,581.6 182.2,581.6 C183.5,581.6 184.9,583.2 186.4,583.5 C187.9,583.8 189.6,583.3 191.2,583.5 C192.8,583.7 194.2,584.8 196.0,584.7 C197.8,584.7 199.0,583.5 201.7,583.2 C204.4,583.0 209.6,583.0 212.2,583.2 C214.8,583.5 214.9,584.5 217.0,584.7 C219.1,585.0 223.2,584.7 225.0,584.7 C226.8,584.7 225.9,585.2 227.6,584.7 C229.2,584.2 233.0,581.8 234.9,581.6 C236.8,581.4 237.6,582.7 239.1,583.5 C240.6,584.3 242.5,586.2 243.9,586.4 C245.3,586.6 245.9,585.0 247.7,584.7 C249.4,584.4 252.7,585.0 254.4,584.7 C256.1,584.5 256.9,583.4 258.2,583.2 C259.5,583.0 260.2,583.0 262.0,583.5 C263.8,584.0 266.9,586.2 268.7,586.4 C270.5,586.6 270.2,585.0 272.6,584.7 C275.0,584.4 280.9,584.4 283.1,584.7 C285.3,585.0 283.7,586.1 285.9,586.4 C288.1,586.7 294.0,586.7 296.4,586.4 C298.8,586.1 297.4,585.0 300.3,584.7 C303.2,584.4 310.9,584.6 313.6,584.7 C316.3,584.9 315.5,585.6 316.5,585.6 C317.5,585.6 317.5,584.9 319.4,584.7 C321.3,584.6 325.4,585.2 328.0,584.7 C330.6,584.2 330.7,582.1 334.7,581.6 C338.7,581.1 348.2,581.3 351.9,581.6 C355.5,581.9 355.0,583.5 356.6,583.5 C358.2,583.5 359.8,581.9 361.4,581.6 C363.0,581.3 364.9,581.3 366.2,581.6 C367.5,581.9 368.0,583.5 369.1,583.5 C370.2,583.5 371.3,582.2 372.9,581.6 C374.5,581.0 377.0,579.7 378.6,579.7 C380.2,579.7 378.8,581.3 382.4,581.6 C386.0,581.9 396.0,581.6 400.0,581.6 C404.0,581.6 404.9,581.9 406.5,581.6 C408.1,581.3 408.2,580.0 409.3,579.7 C410.4,579.4 412.1,579.4 413.2,579.7 C414.3,580.0 414.2,581.3 416.0,581.6 C417.8,581.9 421.8,581.3 423.7,581.6 C425.6,581.9 426.1,583.0 427.5,583.5 C428.9,584.0 430.7,584.8 432.3,584.7 C433.9,584.7 434.8,583.5 437.0,583.2 C439.2,583.0 443.5,583.0 445.6,583.2 C447.7,583.5 446.9,584.5 449.5,584.7 C452.1,585.0 457.9,585.2 460.9,584.7 C463.9,584.2 465.9,581.9 467.6,581.6 C469.4,581.4 468.8,582.9 471.4,583.2 C473.9,583.5 480.3,583.5 482.9,583.2 C485.4,582.9 484.9,581.9 486.7,581.6 C488.4,581.3 490.8,580.9 493.4,581.6 C495.9,582.3 500.3,585.5 502.0,586.0 C503.7,586.5 502.8,580.9 503.5,584.7 C504.2,588.5 505.3,605.0 506.2,608.6 C507.1,612.2 507.6,610.5 508.7,606.3 C509.8,602.1 511.2,587.4 512.5,583.5 C513.8,579.6 515.2,583.5 516.3,583.2 C517.3,582.9 518.0,581.6 518.8,581.6 C519.6,581.6 520.1,583.2 521.1,583.5 C522.1,583.8 523.6,583.5 524.9,583.2 C526.2,582.9 525.9,581.9 528.8,581.6 C531.7,581.3 539.1,581.9 542.1,581.6 C545.1,581.3 545.6,580.0 546.9,579.7 C548.2,579.4 548.2,579.1 549.8,579.7 C551.4,580.3 554.3,582.6 556.5,583.2 C558.7,583.8 561.5,583.5 563.2,583.2 C565.0,582.9 565.0,581.9 567.0,581.6 C569.0,581.3 573.1,581.7 575.0,581.6 C576.9,581.5 577.4,581.0 578.5,581.3 C579.6,581.6 579.9,583.2 581.7,583.5 C583.5,583.8 587.4,583.4 589.1,583.0 C590.8,582.6 590.7,581.3 591.7,581.3 C592.7,581.3 593.1,582.7 595.1,583.0 C597.1,583.3 602.0,583.3 604.0,583.0 C606.0,582.7 605.4,581.6 607.2,581.3 C609.0,581.0 612.7,580.8 614.6,581.3 C616.5,581.8 617.2,583.5 618.8,584.1 C620.4,584.7 622.0,585.2 624.1,584.7 C626.2,584.2 628.6,581.9 631.6,581.3 C634.6,580.7 639.9,581.0 642.2,581.3 C644.5,581.6 641.9,582.7 645.4,583.0 C648.9,583.3 660.0,583.3 663.4,583.0 C666.8,582.7 664.1,581.8 665.5,581.3 C666.9,580.8 670.5,580.4 671.9,580.3 C673.3,580.2 673.4,576.0 674.0,580.9 C674.6,585.8 674.5,604.6 675.5,609.4 C676.5,614.2 678.6,614.4 680.0,609.8 C681.4,605.2 682.1,587.0 683.6,582.0 C685.1,577.0 687.5,580.2 688.9,579.9 C690.3,579.6 691.0,580.1 692.1,580.3 C693.2,580.5 693.9,581.1 695.3,581.3 C696.7,581.5 699.2,581.0 700.6,581.3 C702.0,581.6 702.8,583.0 703.8,583.0 C704.8,583.0 704.2,581.6 706.9,581.3 C709.5,581.0 716.9,580.9 719.7,581.3 C722.5,581.7 722.5,583.2 723.9,583.5 C725.3,583.8 727.0,583.4 728.2,583.0 C729.5,582.6 729.5,581.6 731.4,581.3 C733.3,581.0 737.8,581.5 739.9,581.3 C742.0,581.1 741.8,580.2 744.1,579.9 C746.4,579.6 751.6,579.7 753.7,579.4 C755.8,579.1 755.5,578.4 756.8,578.2 C758.1,578.0 760.7,578.2 761.5,578.2" fill="none" stroke="#ff12f0" stroke-width="1.6" stroke-linejoin="round"/>
</svg>
<div class="lbl" style="left:0;width:40.5px;text-align:right;top:458.5px">600 m</div>
<div class="lbl" style="left:0;width:40.5px;text-align:right;top:509.5px">550 m</div>
<div class="lbl" style="left:0;width:40.5px;text-align:right;top:560.5px">500 m</div>
<div class="lbl" style="left:0;width:40.5px;text-align:right;top:611.5px">450 m</div>
<div class="lbl" style="left:88.3px;width:60px;text-align:center;top:655px">0.1 km</div>
<div class="lbl" style="left:159.1px;width:60px;text-align:center;top:655px">0.2 km</div>
<div class="lbl" style="left:229.89999999999998px;width:60px;text-align:center;top:655px">0.3 km</div>
<div class="lbl" style="left:300.7px;width:60px;text-align:center;top:655px">0.4 km</div>
<div class="lbl" style="left:371.5px;width:60px;text-align:center;top:655px">0.5 km</div>
<div class="lbl" style="left:442.29999999999995px;width:60px;text-align:center;top:655px">0.6 km</div>
<div class="lbl" style="left:513.0999999999999px;width:60px;text-align:center;top:655px">0.7 km</div>
<div class="lbl" style="left:583.9px;width:60px;text-align:center;top:655px">0.8 km</div>
<div class="lbl" style="left:654.6999999999999px;width:60px;text-align:center;top:655px">0.9 km</div>
<div class="lbl" style="left:725.8px;width:60px;text-align:center;top:655px">1.0 km</div>
<div class="a" style="left:119px;top:747px;width:676px;height:1px;background:#ebebf0"></div>
<div class="t" style="left:151px;top:758px;font-size:13px;color:#1c1c20">Avg</div>
<div class="t" style="left:223px;width:100px;top:707.5px;text-align:center;font-size:12.2px;color:#494950">Pace</div>
<div class="tog" style="left:256px;top:722px;width:34px;background:#2eab35"></div>
<div class="t" style="left:261px;top:724px;font-size:10px;font-weight:bold;color:#fff">on</div>
<div class="knob" style="left:275px;top:721px"></div>
<div class="t" style="left:213px;width:120px;top:759px;text-align:center;font-size:12.5px;color:#1c1c20;-webkit-text-stroke:0.2px #1c1c20">6:58 <span style="font-size:10.5px">/km</span></div>
<div class="t" style="left:359px;width:100px;top:707.5px;text-align:center;font-size:12.2px;color:#494950">GAP</div>
<div class="tog" style="left:392px;top:722px;width:34px;background:#dcdcdc"></div>
<div class="knob" style="left:391px;top:721px"></div>
<div class="t" style="left:349px;width:120px;top:759px;text-align:center;font-size:12.5px;color:#1c1c20;-webkit-text-stroke:0.2px #1c1c20">6:53 <span style="font-size:10.5px">/km</span></div>
<div class="t" style="left:513px;width:100px;top:707.5px;text-align:center;font-size:12.2px;color:#494950">Heart Rate</div>
<div class="tog" style="left:546px;top:722px;width:34px;background:#2eab35"></div>
<div class="t" style="left:551px;top:724px;font-size:10px;font-weight:bold;color:#fff">on</div>
<div class="knob" style="left:565px;top:721px"></div>
<div class="t" style="left:503px;width:120px;top:759px;text-align:center;font-size:12.5px;color:#1c1c20;-webkit-text-stroke:0.2px #1c1c20">131 <span style="font-size:10.5px">bpm</span></div>
<div class="t" style="left:672px;width:100px;top:707.5px;text-align:center;font-size:12.2px;color:#494950">Cadence</div>
<div class="tog" style="left:705px;top:722px;width:34px;background:#2eab35"></div>
<div class="t" style="left:710px;top:724px;font-size:10px;font-weight:bold;color:#fff">on</div>
<div class="knob" style="left:724px;top:721px"></div>
<div class="t" style="left:662px;width:120px;top:759px;text-align:center;font-size:12.5px;color:#1c1c20;-webkit-text-stroke:0.2px #1c1c20">161 <span style="font-size:10.5px">spm</span></div>
</body></html>
